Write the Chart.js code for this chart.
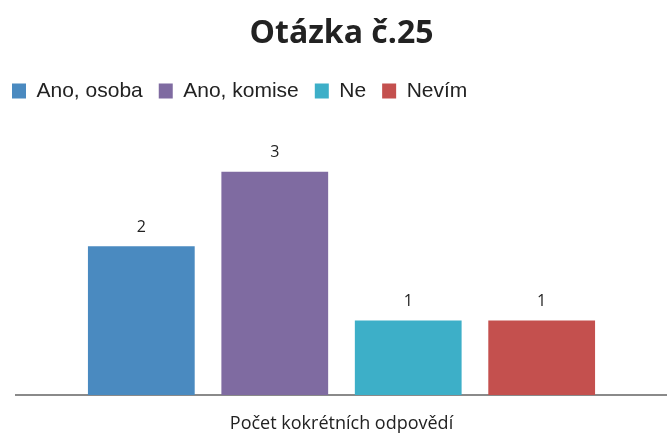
<!DOCTYPE html>
<html>
<head>
<meta charset="utf-8">
<script src="https://cdn.jsdelivr.net/npm/chart.js@4"></script>
<style>
  body { margin: 0; background: #fff; }
</style>
</head>
<body>
<canvas id="chart" width="667" height="434"></canvas>
<script>
const categories = ['Počet kokrétních odpovědí'];
const seriesNames = ['Ano, osoba', 'Ano, komise', 'Ne', 'Nevím'];
const seriesValues = [[2], [3], [1], [1]];
const seriesColors = ['#4A8AC0', '#7F6BA1', '#3DAFC8', '#C4504E'];

// values printed above each bar
const valueLabels = {
    id: 'valueLabels',
    afterDatasetsDraw(chart) {
        const ctx = chart.ctx;
        ctx.save();
        ctx.font = '16px "Open Sans"';
        ctx.fillStyle = '#222';
        ctx.textAlign = 'center';
        ctx.textBaseline = 'middle';
        chart.data.datasets.forEach((ds, i) => {
            chart.getDatasetMeta(i).data.forEach((bar, j) => {
                ctx.fillText(ds.data[j], bar.x, bar.y - 19);
            });
        });
        ctx.restore();
    }
};

const ctx = document.getElementById('chart').getContext('2d');
const chart = new Chart(ctx, {
    type: 'bar',
    data: {
        labels: categories,
        datasets: seriesNames.map((name, i) => ({
            label: name,
            data: seriesValues[i],
            backgroundColor: seriesColors[i],
            borderWidth: 0,
            categoryPercentage: 0.82,
            barPercentage: 0.8
        }))
    },
    options: {
        responsive: false,
        animation: false,
        layout: { padding: { top: 15, bottom: 0, right: 0, left: -4 } },
        plugins: {
            title: {
                display: true,
                text: 'Otázka č.25',
                fullSize: false,
                color: '#222',
                font: { family: '"Open Sans"', size: 32, weight: 'bold' },
                padding: { top: 0, bottom: 11 }
            },
            legend: {
                position: 'top',
                align: 'start',
                labels: {
                    boxWidth: 14,
                    boxHeight: 15,
                    padding: 16,
                    color: '#222',
                    font: { family: '"Liberation Sans"', size: 21 }
                }
            },
            tooltip: { enabled: false }
        },
        scales: {
            x: {
                grid: { display: false, drawTicks: false },
                border: { display: true, color: '#8a8a8a', width: 2 },
                ticks: {
                    color: '#222',
                    padding: 18,
                    font: { family: '"Open Sans"', size: 18 }
                },
                afterFit(scale) { scale.height = 39; }
            },
            y: {
                display: true,
                min: 0,
                max: 3.81,
                grid: { display: false, drawTicks: false },
                border: { display: false },
                ticks: { display: false },
                afterFit(scale) { scale.width = 20; }
            }
        }
    },
    plugins: [valueLabels]
});
</script>
</body>
</html>
